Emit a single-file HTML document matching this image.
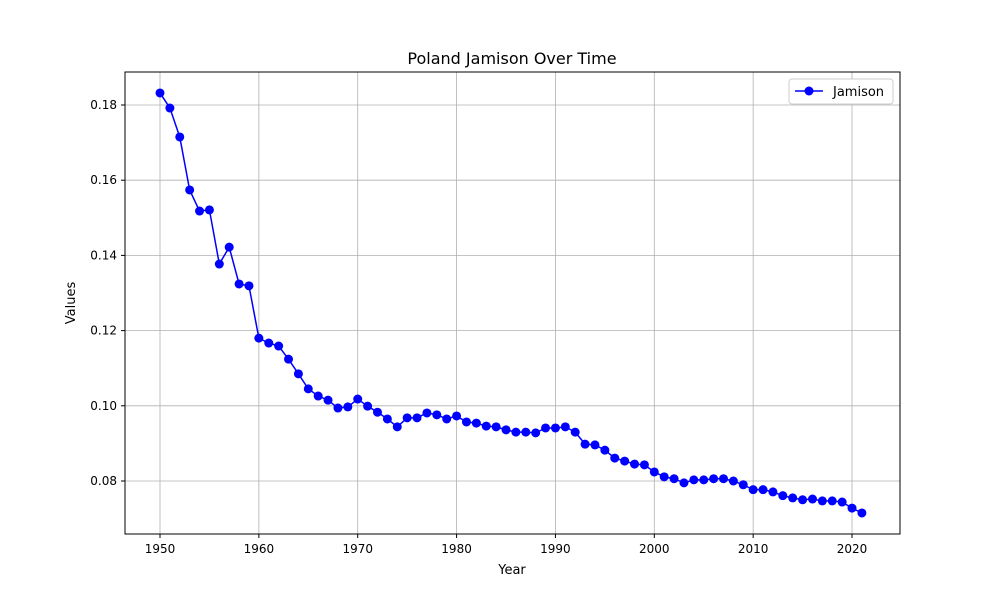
<!DOCTYPE html>
<html><head><meta charset="utf-8">
<style>
body{margin:0;background:#fff;}
svg{display:block;font-family:"DejaVu Sans","Liberation Sans",sans-serif;}
</style></head>
<body>
<svg id="chart" width="1000" height="600" viewBox="0 0 1000 600">
<rect width="1000" height="600" fill="#fff"/>
<g id="grid"></g>
<g id="ticks"></g>
<rect x="125" y="72" width="775" height="462" fill="none" stroke="#000" stroke-width="1"/>
<g id="series"></g>
<text x="512" y="64" text-anchor="middle" font-size="16">Poland Jamison Over Time</text>
<text x="512" y="574" text-anchor="middle" font-size="13">Year</text>
<text x="75" y="303" text-anchor="middle" font-size="13" transform="rotate(-90 75 303)">Values</text>
<g>
<rect x="789" y="79" width="104" height="25" fill="#fff" stroke="#ccc" rx="3"/>
<line x1="795" y1="91" x2="823" y2="91" stroke="#0000ff" stroke-width="1.5"/>
<circle cx="809" cy="91" r="4.5" fill="#0000ff"/>
<text x="833" y="96" font-size="13">Jamison</text>
</g>
</svg>
<script>
const years = [];
for (let y = 1950; y <= 2021; y++) years.push(y);
const values = [0.1832,0.1792,0.1715,0.1574,0.1518,0.1521,0.1377,0.1422,0.1324,0.1319,
0.1180,0.1167,0.1159,0.1124,0.1085,0.1045,0.1026,0.1015,0.0994,0.0997,
0.1018,0.0999,0.0983,0.0965,0.0944,0.0968,0.0968,0.0981,0.0976,0.0965,
0.0973,0.0957,0.0954,0.0946,0.0944,0.0936,0.0930,0.0930,0.0928,0.0941,
0.0941,0.0944,0.0930,0.0898,0.0896,0.0882,0.0861,0.0853,0.0845,0.0843,
0.0824,0.0811,0.0806,0.0795,0.0803,0.0803,0.0806,0.0806,0.0800,0.0790,
0.0777,0.0777,0.0771,0.0761,0.0755,0.0750,0.0752,0.0747,0.0747,0.0744,
0.0728,0.0715];
const xTicks = [1950,1960,1970,1980,1990,2000,2010,2020];
const yTicks = [0.08,0.10,0.12,0.14,0.16,0.18];
const yLabels = ["0.08","0.10","0.12","0.14","0.16","0.18"];

const NS = "http://www.w3.org/2000/svg";
function xs(v){ return 160 + (v - 1950) * 9.886; }
function ys(v){ return 105 + (0.18 - v) * 3760; }
function mk(tag, attrs, parent){
  const e = document.createElementNS(NS, tag);
  for (const k in attrs) e.setAttribute(k, attrs[k]);
  parent.appendChild(e); return e;
}
const grid = document.getElementById('grid');
const ticks = document.getElementById('ticks');
xTicks.forEach(t => {
  const x = xs(t);
  const g = mk('line', {x1:x, x2:x, y1:72, y2:534, stroke:'#b0b0b0', 'stroke-width':0.8}, grid);
  
  
  mk('line', {x1:x, x2:x, y1:534, y2:538, stroke:'#000'}, ticks);
  const l = mk('text', {x:x, y:553, 'text-anchor':'middle', 'font-size':12}, ticks);
  l.textContent = t;
  
  
});
yTicks.forEach((t, i) => {
  const y = ys(t);
  const g = mk('line', {x1:125, x2:900, y1:y, y2:y, stroke:'#b0b0b0', 'stroke-width':0.8}, grid);
  
  
  mk('line', {x1:121, x2:125, y1:y, y2:y, stroke:'#000'}, ticks);
  const l = mk('text', {x:117, y:y+4, 'text-anchor':'end', 'font-size':12}, ticks);
  l.textContent = yLabels[i];
  
  
});
const series = document.getElementById('series');
const pts = years.map((yr, i) => xs(yr).toFixed(2) + ',' + ys(values[i]).toFixed(2)).join(' ');
const line = mk('polyline', {points:pts, fill:'none', stroke:'#0000ff', 'stroke-width':1.5}, series);


years.forEach((yr, i) => {
  const c = mk('circle', {cx:xs(yr), cy:ys(values[i]), r:4.5, fill:'#0000ff'}, series);
  
  
});
</script>
</body></html>
